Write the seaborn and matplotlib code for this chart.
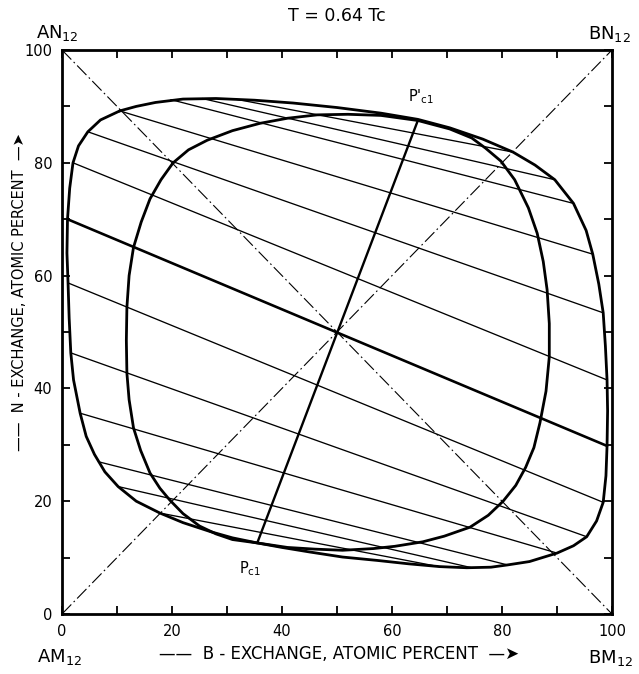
import matplotlib
matplotlib.use("Agg")
import numpy as np
import pandas as pd
import matplotlib.pyplot as plt
import seaborn as sns

# ---------------- data ----------------
outer_x = [10.5, 7.0, 4.7, 3.0, 2.0, 1.4, 1.0, 0.9, 1.1, 1.3, 1.6, 2.1, 3.3, 4.4, 5.9, 7.8,
           10.2, 13.5, 17.8, 22.0, 27.0, 31.0, 35.5, 40.0, 45.0, 51.0, 57.3, 63.0, 68.7, 73.6,
           78.0, 81.0, 85.0, 90.0, 93.0, 95.4, 97.2, 98.4, 98.9, 99.1, 99.2, 99.1, 98.8, 98.4,
           97.6, 96.5, 95.3, 93.0, 89.6, 86.0, 82.0, 76.5, 70.5, 64.7, 58.0, 50.0, 42.0, 35.0,
           28.0, 22.0, 17.0, 13.5, 10.5]
outer_y = [89.2, 87.6, 85.5, 83.0, 80.0, 75.5, 70.0, 64.0, 58.7, 52.5, 46.3, 41.5, 35.6, 31.5,
           28.3, 25.2, 22.6, 20.0, 17.9, 16.2, 14.6, 13.5, 12.6, 11.8, 11.0, 10.1, 9.5, 8.9,
           8.4, 8.2, 8.3, 8.7, 9.3, 10.8, 12.1, 13.7, 16.5, 19.8, 24.5, 29.8, 36.0, 41.5, 47.5,
           53.4, 58.5, 63.8, 68.0, 72.8, 77.0, 79.6, 81.9, 84.2, 86.2, 87.7, 88.8, 89.8, 90.6,
           91.1, 91.4, 91.3, 90.7, 90.0, 89.2]

inner_x = [20.2, 18.0, 16.0, 14.4, 13.0, 12.2, 11.8, 11.7, 11.8, 12.2, 13.0, 14.3, 16.0, 17.8,
           19.6, 22.0, 25.0, 28.0, 31.0, 35.5, 41.0, 46.0, 51.0, 56.6, 60.5, 65.6, 69.5, 74.2,
           77.5, 80.2, 82.5, 84.3, 85.8, 86.9, 88.0, 88.6, 88.6, 88.2, 87.5, 86.4, 84.8, 82.3,
           79.8, 77.0, 74.5, 70.5, 64.7, 58.0, 52.0, 46.4, 41.0, 36.0, 31.0, 26.4, 23.0, 20.2]
inner_y = [80.0, 77.0, 73.6, 69.5, 65.0, 60.0, 54.4, 48.5, 42.7, 38.0, 33.0, 29.0, 25.0, 22.3,
           20.2, 17.8, 15.6, 14.2, 13.2, 12.6, 11.8, 11.5, 11.3, 11.6, 12.0, 12.8, 13.8, 15.4,
           17.5, 20.0, 22.8, 26.0, 29.5, 33.9, 39.5, 45.6, 51.5, 57.5, 62.5, 67.5, 72.0, 77.0,
           80.3, 82.6, 84.4, 86.0, 87.5, 88.4, 88.6, 88.5, 87.9, 87.0, 85.7, 84.0, 82.3, 80.0]

# thin tie lines: start (x1, y1) -> end (x2, y2)
tie_x1 = [10.5, 4.7, 2.0, 1.1, 1.6, 3.3, 19.8, 6.6, 25.5, 10.2, 31.5, 17.8]
tie_y1 = [89.2, 85.5, 80.0, 58.7, 46.3, 35.6, 91.2, 27.0, 91.4, 22.6, 91.3, 17.9]
tie_x2 = [96.5, 98.4, 99.1, 98.4, 95.4, 90.0, 93.0, 81.0, 89.6, 74.5, 82.0, 68.5]
tie_y2 = [63.8, 53.4, 41.5, 19.8, 13.7, 10.8, 72.8, 8.7, 77.0, 8.2, 81.9, 8.4]

# heavy central tie line
heavy_x = [1.0, 99.1]
heavy_y = [70.0, 29.8]

# line joining the critical points Pc1 and P'c1
crit_x = [35.5, 64.7]
crit_y = [12.6, 87.5]

# diagonals
diag1_x, diag1_y = [0, 100], [0, 100]
diag2_x, diag2_y = [0, 100], [100, 0]

tick_values = list(range(0, 101, 10))
tick_labels = ["0", "", "20", "", "40", "", "60", "", "80", "", "100"]

# ---------------- figure ----------------
sns.set_theme(style="ticks")
plt.rcParams['font.family'] = ['DejaVu Sans']
plt.rcParams['mathtext.fontset'] = 'dejavusans'
plt.rcParams['text.color'] = 'black'
plt.rcParams['xtick.color'] = 'black'
plt.rcParams['ytick.color'] = 'black'
plt.rcParams['xtick.labelcolor'] = 'black'
plt.rcParams['ytick.labelcolor'] = 'black'

W, H = 639, 674
fig = plt.figure(figsize=(W / 100, H / 100), dpi=100)
fig.patch.set_facecolor("white")
ax = fig.add_axes([62 / W, 1 - 614 / H, 550 / W, 564 / H])
ax.set_facecolor("white")

# diagonals (dash-dot)
dd = (0, (12, 3, 1.5, 3))
ax.plot(diag1_x, diag1_y, color="black", lw=0.8, linestyle=dd)
ax.plot(diag2_x, diag2_y, color="black", lw=0.8, linestyle=dd)

# tie lines
rows = []
for i, (a, b, c, d) in enumerate(zip(tie_x1, tie_y1, tie_x2, tie_y2)):
    rows.append({"tie": i, "x": a, "y": b})
    rows.append({"tie": i, "x": c, "y": d})
ties = pd.DataFrame(rows)
sns.lineplot(data=ties, x="x", y="y", units="tie", estimator=None, sort=False,
             color="black", lw=0.95, ax=ax)

# heavy tie line and critical line
sns.lineplot(x=heavy_x, y=heavy_y, sort=False, estimator=None, color="black", lw=1.9, ax=ax)
sns.lineplot(x=crit_x, y=crit_y, sort=False, estimator=None, color="black", lw=1.7, ax=ax)

# closed curves
sns.lineplot(x=outer_x, y=outer_y, sort=False, estimator=None, color="black", lw=2.0, ax=ax)
sns.lineplot(x=inner_x, y=inner_y, sort=False, estimator=None, color="black", lw=2.0, ax=ax)

ax.set_xlim(0, 100)
ax.set_ylim(0, 100)
ax.set_xticks(tick_values)
ax.set_yticks(tick_values)
ax.set_xticklabels(tick_labels)
ax.set_yticklabels(tick_labels)
ax.tick_params(direction="in", length=6, width=1.3, top=True, right=True,
               labelsize=10.5, pad=7, colors="black")
for s in ax.spines.values():
    s.set_linewidth(2.0)
    s.set_color("black")
ax.set_xlabel("")
ax.set_ylabel("")

# point labels
ax.text(65.3, 91.7, r"P$'_{\mathregular{c1}}$", ha="center", va="center", fontsize=10.5)
ax.text(34.2, 8.0, r"P$_{\mathregular{c1}}$", ha="center", va="center", fontsize=10.5)

def ftext(px, py, s, **kw):
    fig.text(px / W, 1 - py / H, s, color="black", **kw)

ftext(337, 16, "T = 0.64 Tc", ha="center", va="center", fontsize=12.5)
ftext(57, 33, r"AN$_{12}$", ha="center", va="center", fontsize=13)
ftext(609, 34, r"BN$_{12}$", ha="center", va="center", fontsize=13)
ftext(59, 657, r"AM$_{12}$", ha="center", va="center", fontsize=13)
ftext(610, 658, r"BM$_{12}$", ha="center", va="center", fontsize=13)
ftext(339, 654, "——  B - EXCHANGE, ATOMIC PERCENT  —➤", ha="center", va="center",
      fontsize=12)
ftext(20, 292, "——  N - EXCHANGE, ATOMIC PERCENT  —➤", ha="center", va="center",
      fontsize=10.5, rotation=90)

fig.savefig("out.png", dpi=100, facecolor="white")
